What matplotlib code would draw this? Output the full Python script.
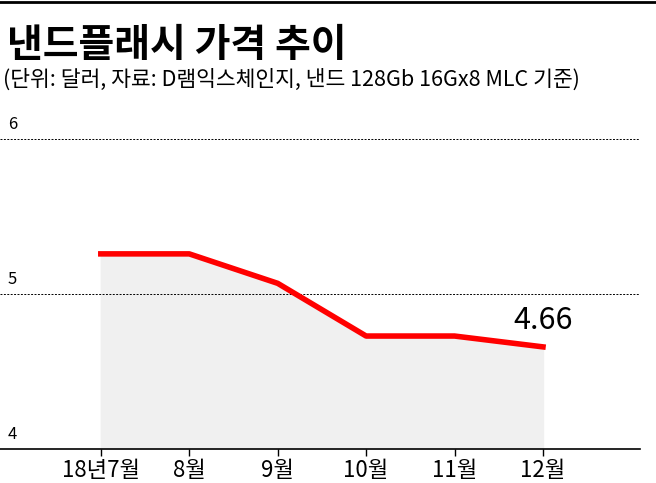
import matplotlib
matplotlib.use("Agg")
import matplotlib.pyplot as plt

plt.rcParams['font.family'] = ['Noto Sans CJK KR', 'DejaVu Sans']

months = ["18년7월", "8월", "9월", "10월", "11월", "12월"]
prices = [5.26, 5.26, 5.07, 4.73, 4.73, 4.66]
yticks = [4, 5, 6]

fig = plt.figure(figsize=(6.56, 4.83), dpi=100)
fig.add_artist(plt.Line2D([0, 1], [0.996, 0.996], color='black', lw=2))
fig.text(0.01, 0.905, "낸드플래시 가격 추이", fontsize=28, fontweight='black', va='center')
fig.text(0.005, 0.835, "(단위: 달러, 자료: D램익스체인지, 낸드 128Gb 16Gx8 MLC 기준)", fontsize=15.5,
         fontweight='medium', va='center')

ax = fig.add_axes([0, 0.07, 0.976, 0.69])
x = list(range(len(months)))
ax.fill_between(x, prices, 4, color='#f0f0f0', zorder=1)
ax.plot(x, prices, color='#ff0000', lw=4, zorder=3)
ax.set_xlim(-1.14, 6.1)
ax.set_ylim(4, 6.15)
for t in yticks[1:]:
    ax.axhline(t, color='black', ls=(0, (2, 1.5)), lw=0.7, zorder=2)
for t in yticks:
    ax.text(-1.05, t + 0.04, str(t), fontsize=12, va='bottom', ha='left')
ax.annotate(f"{prices[-1]:.2f}", (x[-1], prices[-1]), xytext=(0, 8), textcoords='offset points',
            ha='center', va='bottom', fontsize=22, fontweight='medium')
for s in ['top', 'right', 'left']:
    ax.spines[s].set_visible(False)
ax.spines['bottom'].set_linewidth(1.2)
ax.set_yticks([])
ax.set_xticks(x)
ax.set_xticklabels(months, fontsize=16, fontweight='medium')
ax.tick_params(axis='x', length=5, width=1, pad=2)
fig.savefig("out.png", dpi=100)
